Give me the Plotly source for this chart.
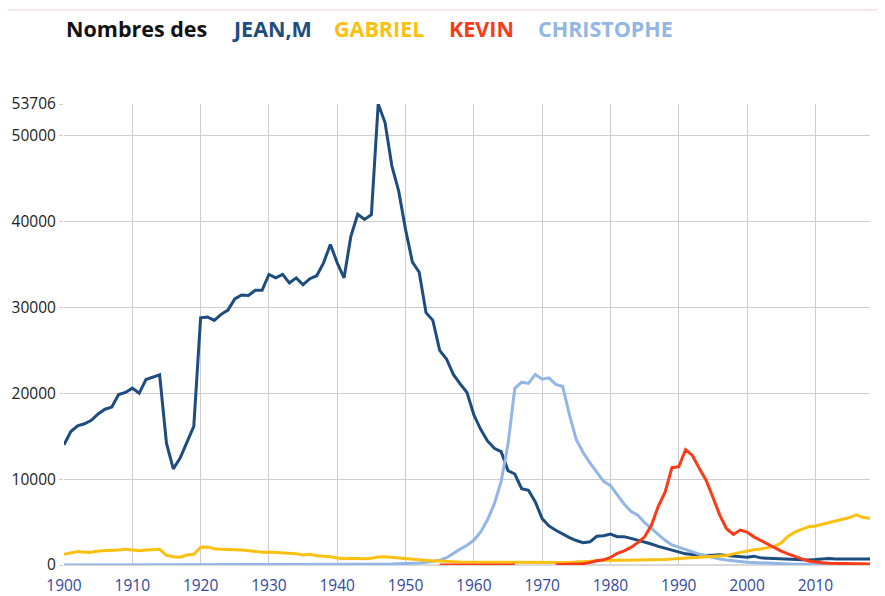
import plotly.graph_objects as go

years = list(range(1900, 2019))

jean = [14000, 15550, 16200, 16450, 16850, 17600, 18150, 18400, 19850, 20100,
        20600, 20000, 21600, 21900, 22150, 14200, 11200, 12450, 14300, 16150,
        28800, 28900, 28500, 29200, 29700, 31000, 31450, 31400, 32000, 32000,
        33850, 33450, 33850, 32850, 33450, 32650, 33350, 33700, 35200, 37350,
        35200, 33450, 38300, 40850, 40250, 40800, 53706, 51550, 46500, 43550,
        39100, 35300, 34100, 29400, 28500, 25000, 24000, 22200, 21100, 20100,
        17500, 15800, 14450, 13600, 13200, 11000, 10600, 8900, 8700, 7350,
        5400, 4550, 4050, 3600, 3200, 2850, 2600, 2700, 3350, 3400,
        3600, 3300, 3300, 3100, 2900, 2730, 2450, 2170, 1940, 1700,
        1460, 1300, 1220, 1150, 1100, 1150, 1190, 1100, 1030, 950,
        910, 1030, 830, 790, 750, 710, 670, 670, 630, 590,
        630, 710, 750, 710, 710, 710, 700, 700, 710]

gabriel = [1245, 1440, 1560, 1480, 1480, 1630, 1670, 1630, 1750, 1830,
           1750, 1670, 1750, 1830, 1830, 1130, 970, 900, 1170, 1245,
           2060, 2100, 1900, 1830, 1830, 1750, 1750, 1670, 1600, 1480,
           1520, 1480, 1480, 1440, 1320, 1170, 1245, 1090, 1050, 970,
           820, 740, 780, 740, 740, 780, 930, 970, 900, 780,
           700, 660, 580, 545, 470, 470, 390, 390, 350, 340,
           320, 310, 300, 300, 290, 280, 280, 270, 260, 260,
           260, 260, 270, 280, 300, 330, 380, 450, 520, 560,
           570, 560, 550, 550, 550, 550, 550, 590, 630, 710,
           750, 830, 870, 910, 910, 950, 990, 1100, 1300, 1460,
           1660, 1780, 1860, 2010, 2170, 2570, 3360, 3830, 4150, 4460,
           4540, 4740, 4940, 5140, 5330, 5530, 5850, 5530, 5450]

kevin = [None] * 55 + [0, 0, 0, 0, 0, 0, 0, 0, 0, 0, 0, 0] + [None] * 5 + [
         30, 40, 60, 100, 150, 300, 500, 600,
         880, 1350, 1650, 2050, 2600, 3280, 4620, 6830, 8490, 11340,
         11450, 13430, 12760, 11260, 9880, 7900, 5810, 4230, 3560, 4070,
         3830, 3280, 2840, 2450, 2010, 1620, 1300, 990, 710, 470,
         320, 250, 200, 180, 160, 150, 140, 130, 120]

christophe = [10, 10, 10, 10, 10, 12, 12, 12, 12, 14,
              14, 14, 15, 15, 15, 12, 10, 10, 12, 15,
              20, 22, 22, 24, 25, 25, 26, 28, 28, 30,
              30, 32, 32, 34, 35, 36, 38, 40, 42, 45,
              48, 50, 55, 60, 65, 70, 80, 95, 110, 130,
              150, 190, 240, 310, 420, 560, 850, 1400, 1850, 2300,
              2880, 3850, 5270, 7120, 9730, 14040, 20580, 21300, 21150, 22200,
              21650, 21800, 21050, 20800, 17500, 14600, 13100, 11900, 10750, 9750,
              9250, 8100, 7100, 6250, 5800, 4940, 4230, 3520, 2880, 2330,
              2050, 1780, 1540, 1260, 1070, 870, 710, 590, 470, 400,
              320, 280, 240, 200, 170, 150, 120, 100, 90, 80,
              70, 60, 55, 50, 45, 40, 40, 35, 30]

names = ["JEAN,M", "GABRIEL", "KEVIN", "CHRISTOPHE"]
series = [jean, gabriel, kevin, christophe]
colors = ["#1d4c7f", "#fcc011", "#fb3b17", "#92b6e5"]

y_ticks = [0, 10000, 20000, 30000, 40000, 50000, 53706]
x_ticks = list(range(1900, 2020, 10))

# The page body has an 8px margin; the figure is sized so it ends at 885x596.
W, H = 877, 588
ML, MR, MT, MB = 56, 15, 96, 31
PW, PH = W - ML - MR, H - MT - MB

fig = go.Figure()
order = [0, 3, 1, 2]
for i in order:
    fig.add_trace(go.Scatter(x=years, y=series[i], name=names[i], mode="lines",
                             line=dict(color=colors[i], width=3),
                             connectgaps=False, cliponaxis=False,
                             showlegend=False))

fig.update_layout(
    width=W, height=H,
    margin=dict(l=ML, r=MR, t=MT, b=MB, autoexpand=False),
    paper_bgcolor="white", plot_bgcolor="white",
    font=dict(family="Open Sans", size=16, color="#222"),
    showlegend=False,
)
fig.update_xaxes(range=[1900, 2018], tickvals=x_ticks, ticktext=[str(v) for v in x_ticks],
                 showgrid=True, gridcolor="#cdcdcd", gridwidth=1,
                 zeroline=False, showline=False, ticks="outside", ticklen=6,
                 tickcolor="rgba(0,0,0,0)",
                 tickfont=dict(family="Open Sans", size=15.5, color="#34479a"))
fig.update_yaxes(range=[0, 53706], tickvals=y_ticks, ticktext=[str(v) for v in y_ticks],
                 showgrid=True, gridcolor="#cdcdcd", gridwidth=1,
                 zeroline=True, zerolinecolor="#d9d9d9", zerolinewidth=2,
                 showline=False, ticks="outside", ticklen=4, tickcolor="#cdcdcd",
                 tickfont=dict(family="Open Sans", size=15.5, color="#222"))

# header line and title pieces (page coordinates converted to paper coordinates)
def px_x(xp):
    return (xp - 8 - ML) / PW

def px_y(yp):
    return 1 + (MT - (yp - 8)) / PH

fig.add_shape(type="line", xref="paper", yref="paper", x0=px_x(8), x1=px_x(885),
              y0=px_y(10), y1=px_y(10), line=dict(color="#f2ccd4", width=1))

title_parts = [("Nombres des", "#111111", 64)] + [
    (names[i], colors[i], xp) for i, xp in zip(range(4), [230, 332, 447, 536])]
for text, col, xp in title_parts:
    fig.add_annotation(text="<b>%s</b>" % text, xref="paper", yref="paper",
                       x=px_x(xp), y=px_y(28),
                       xanchor="left", yanchor="middle", showarrow=False,
                       font=dict(family="Open Sans", size=21.5, color=col))

fig.write_html("out.html")
